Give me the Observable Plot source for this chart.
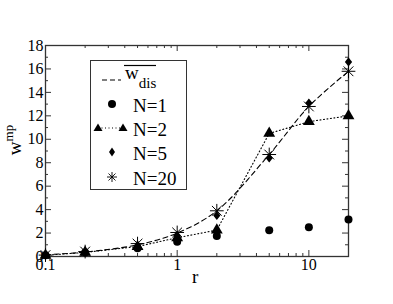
<!DOCTYPE html>
<html><head><meta charset="utf-8">
<script src="https://cdn.jsdelivr.net/npm/d3@7"></script>
<script src="https://cdn.jsdelivr.net/npm/@observablehq/plot@0.6"></script>
<style>
body{margin:0;background:#fff;}
#wrap{position:relative;width:393px;height:304px;}
#legend{position:absolute;left:90px;top:60px;width:95px;height:128px;border:1.3px solid #333;background:#fff;z-index:2;}
#legend svg{position:absolute;left:0;top:0;}
.lt{position:absolute;font-size:19px;line-height:1;color:#000;white-space:nowrap;}
#xlab{position:absolute;left:192px;top:267px;font-size:19px;line-height:1;z-index:2;}
</style></head>
<body><div id="wrap">
<div id="legend" style="font-family:'Liberation Serif'">
<svg width="95" height="128">
  <line x1="11" y1="19" x2="30" y2="19" stroke="#000" stroke-width="1.1" stroke-dasharray="5,3"/>
  <line x1="33" y1="4.5" x2="65" y2="4.5" stroke="#000" stroke-width="1.2"/>
  <circle cx="21" cy="43" r="4" fill="#000"/>
  <line x1="7" y1="67" x2="32" y2="67" stroke="#000" stroke-width="1.1" stroke-dasharray="1,2.5"/>
  <path d="M7,62.5 L11.5,70 L2.5,70 Z" fill="#000"/>
  <path d="M32,62.5 L36.5,70 L27.5,70 Z" fill="#000"/>
  <path d="M21,86.5 L24,91 L21,95.5 L18,91 Z" fill="#000"/>
  <g stroke="#000" stroke-width="0.9">
    <line x1="21" y1="111" x2="21" y2="121"/>
    <line x1="16" y1="116" x2="26" y2="116"/>
    <line x1="17.5" y1="112.5" x2="24.5" y2="119.5"/>
    <line x1="17.5" y1="119.5" x2="24.5" y2="112.5"/>
  </g>
</svg>
<div class="lt" style="left:34px;top:2px;font-family:'Liberation Serif'">w<span style="font-size:15px;position:relative;top:9px;">dis</span></div>
<div class="lt" style="left:42px;top:35px;font-family:'Liberation Serif'">N=1</div>
<div class="lt" style="left:42px;top:59px;font-family:'Liberation Serif'">N=2</div>
<div class="lt" style="left:42px;top:83px;font-family:'Liberation Serif'">N=5</div>
<div class="lt" style="left:42px;top:108px;font-family:'Liberation Serif'">N=20</div>
</div>
<div id="xlab" style="font-family:'Liberation Serif'">r</div>
</div>
<script>
const rVals = [0.1, 0.2, 0.5, 1, 2, 5, 10, 20];
const wdis  = [0.15, 0.38, 1.0, 2.0, 3.9, 8.7, 12.8, 15.8];
const n1    = [0.1, 0.35, 0.7, 1.25, 1.75, 2.25, 2.5, 3.15];
const n2    = [0.1, 0.35, 0.85, 1.6, 2.25, 10.5, 11.5, 12.0];
const n5    = [0.1, 0.38, 0.9, 1.8, 3.5, 8.4, 13.1, 16.6];
const n20   = [0.12, 0.42, 1.1, 2.05, 3.9, 8.7, 12.8, 15.8];
const xTickLabels = [0.1, 1, 10];
const xMinor = [0.2,0.3,0.4,0.5,0.6,0.7,0.8,0.9,2,3,4,5,6,7,8,9];
const yMajor = [0,2,4,6,8,10,12,14,16,18];
const yMinor = [1,3,5,7,9,11,13,15,17];

const FONT = "Liberation Serif";
const W = 393, H = 304, mL = 45, mR = 45, mT = 45, mB = 48;
const pw = W - mL - mR, ph = H - mT - mB;
const mk = ys => rVals.map((x, i) => ({x, y: ys[i]}));
const col = "#000";
const axisCol = "#333";

const diamondSym = {
  draw(ctx, size) {
    const r = Math.sqrt(size / Math.PI);
    const h = r * 1.2, w = r * 0.95;
    ctx.moveTo(0, -h); ctx.lineTo(w, 0); ctx.lineTo(0, h); ctx.lineTo(-w, 0); ctx.closePath();
  }
};

const chart = Plot.plot({
  width: W, height: H,
  marginLeft: mL, marginRight: mR, marginTop: mT, marginBottom: mB,
  style: {fontFamily: FONT, fontSize: "16px", background: "#fff", color: "#000"},
  x: {type: "log", domain: [0.1, 20], axis: null},
  y: {domain: [0, 18], axis: null},
  marks: [
    Plot.frame({stroke: axisCol, strokeWidth: 1.3}),
    Plot.axisX(xTickLabels, {anchor: "bottom", tickSize: 0, tickPadding: 2, tickFormat: d => String(d), fontSize: 16, fontFamily: FONT, label: null}),
    Plot.axisY(yMajor, {anchor: "left", tickSize: 0, tickPadding: 2, fontSize: 16, fontFamily: FONT, label: null}),
    Plot.tickX(xTickLabels, {x: d => d, insetTop: ph - 6, stroke: axisCol}),
    Plot.tickX(xTickLabels, {x: d => d, insetBottom: ph - 6, stroke: axisCol}),
    Plot.tickX(xMinor, {x: d => d, insetTop: ph - 3, stroke: axisCol}),
    Plot.tickX(xMinor, {x: d => d, insetBottom: ph - 3, stroke: axisCol}),
    Plot.tickY(yMajor, {y: d => d, insetRight: pw - 6, stroke: axisCol}),
    Plot.tickY(yMajor, {y: d => d, insetLeft: pw - 6, stroke: axisCol}),
    Plot.tickY(yMinor, {y: d => d, insetRight: pw - 3, stroke: axisCol}),
    Plot.tickY(yMinor, {y: d => d, insetLeft: pw - 3, stroke: axisCol}),
    Plot.line(mk(wdis), {x: "x", y: "y", stroke: col, strokeWidth: 1.1, strokeDasharray: "5,3.5", curve: "catmull-rom"}),
    Plot.line(mk(n2), {x: "x", y: "y", stroke: col, strokeWidth: 1.1, strokeDasharray: "1,2.5"}),
    Plot.dot(mk(n1), {x: "x", y: "y", symbol: "circle", fill: col, r: 4}),
    Plot.dot(mk(n2), {x: "x", y: "y", symbol: "triangle", fill: col, r: 4.4}),
    Plot.dot(mk(n5), {x: "x", y: "y", symbol: diamondSym, fill: col, r: 3.8}),
    Plot.dot(mk(n20), {x: "x", y: "y", symbol: "plus", stroke: col, strokeWidth: 1, r: 4.5}),
    Plot.dot(mk(n20), {x: "x", y: "y", symbol: "times", stroke: col, strokeWidth: 1, r: 4.5})
  ]
});

const wrap = document.getElementById("wrap");
wrap.insertBefore(chart, wrap.firstChild);

const svg = d3.select(chart.tagName.toLowerCase() === "svg" ? chart : chart.querySelector("svg"));
svg.selectAll("text").attr("font-family", FONT);
const yl = svg.append("text")
  .attr("transform", "translate(21,140) rotate(-90)")
  .attr("text-anchor", "middle")
  .attr("font-family", FONT)
  .attr("font-size", 19)
  .attr("fill", "#000");
yl.append("tspan").text("w");
yl.append("tspan").attr("font-size", 13).attr("dy", -8).text("mp");
</script></body></html>
